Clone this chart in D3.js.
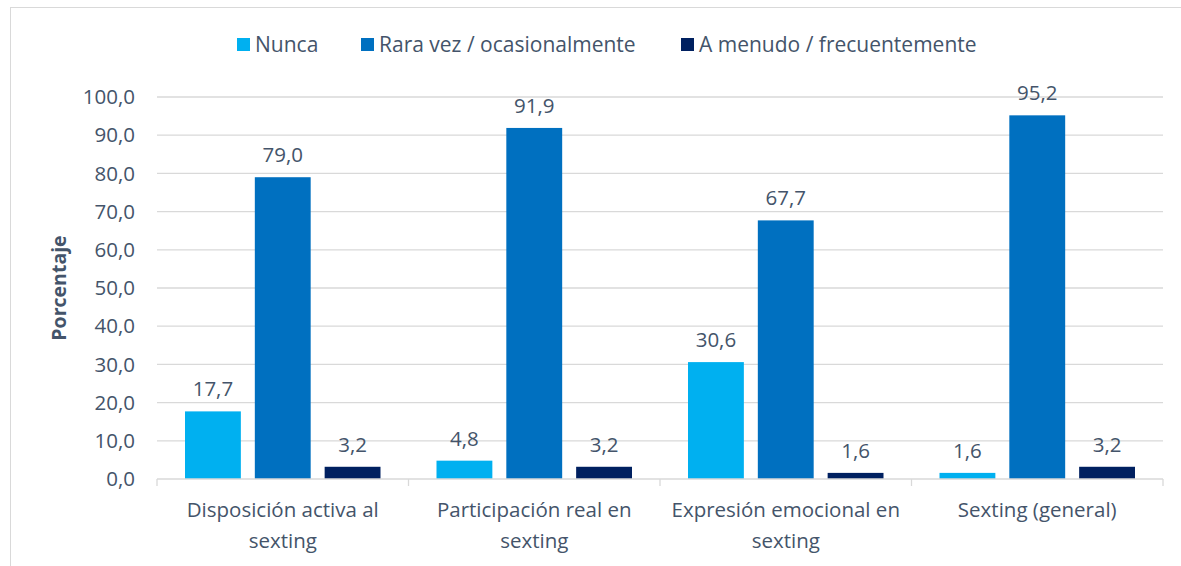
<html>
<script src='https://d3js.org/d3.v7.min.js'></script>
<style>
body {margin:0; background:#fff;}
text {font-family: "Open Sans", "Noto Sans", sans-serif; fill:#44546A;}
</style>
<body>
<svg width=1181 height=566></svg>
<script>
var categories = [["Disposición activa al","sexting"],["Participación real en","sexting"],["Expresión emocional en","sexting"],["Sexting (general)"]]
var seriesNames = ["Nunca","Rara vez / ocasionalmente","A menudo / frecuentemente"]
var nunca = [17.7, 4.8, 30.6, 1.6]
var raraVez = [79.0, 91.9, 67.7, 95.2]
var aMenudo = [3.2, 3.2, 1.6, 3.2]
var yTicks = [0,10,20,30,40,50,60,70,80,90,100]
var colors = ["#00B0F0","#0070C0","#002060"]

var svg = d3.select("svg")
svg.append("rect").attr("x",10.5).attr("y",7.5).attr("width",1190).attr("height",600)
  .attr("fill","none").attr("stroke","#D9D9D9")

var series = [nunca, raraVez, aMenudo]
var x = d3.scaleBand().domain(d3.range(categories.length)).range([157,1163])
var xi = d3.scaleBand().domain(d3.range(3)).range([28, x.bandwidth()-28]).paddingInner(0.2)
var y = d3.scaleLinear().domain([0,100]).range([479,97])

// gridlines
svg.append("g").selectAll("line").data(yTicks.slice(1)).enter().append("line")
  .attr("x1",157).attr("x2",1163).attr("y1",d=>y(d)).attr("y2",d=>y(d))
  .attr("stroke","#D9D9D9").attr("stroke-width",1.3)

// y labels
svg.append("g").selectAll("text").data(yTicks).enter().append("text")
  .attr("x",135).attr("y",d=>y(d)).attr("dy","0.35em").attr("text-anchor","end")
  .style("font-size","20.5px").text(d=>d.toFixed(1).replace(".",","))

svg.append("text").attr("transform","translate(66,288) rotate(-90)")
  .attr("text-anchor","middle").style("font-size","19.5px").style("font-weight","bold")
  .text("Porcentaje")

// bars
series.forEach(function(s, si) {
  var g = svg.append("g")
  g.selectAll("rect").data(s).enter().append("rect")
    .attr("x",(d,i)=>x(i)+xi(si)).attr("width",xi.bandwidth())
    .attr("y",d=>y(d)).attr("height",d=>y(0)-y(d)).attr("fill",colors[si])
  g.selectAll("text").data(s).enter().append("text")
    .attr("x",(d,i)=>x(i)+xi(si)+xi.bandwidth()/2).attr("y",d=>y(d)-15)
    .attr("text-anchor","middle").style("font-size","20.5px")
    .text(d=>d.toFixed(1).replace(".",","))
})

// x axis
svg.append("line").attr("x1",157).attr("x2",1163).attr("y1",479).attr("y2",479)
  .attr("stroke","#D9D9D9").attr("stroke-width",1.3)
svg.append("g").selectAll("line").data(d3.range(categories.length+1)).enter().append("line")
  .attr("x1",d=>157+d*x.step()).attr("x2",d=>157+d*x.step()).attr("y1",479).attr("y2",486)
  .attr("stroke","#D9D9D9").attr("stroke-width",1.3)
categories.forEach(function(c, i) {
  var t = svg.append("text").attr("text-anchor","middle").style("font-size","20.5px")
  c.forEach(function(line, li) {
    t.append("tspan").attr("x",x(i)+x.bandwidth()/2).attr("y",517+li*31).text(line)
  })
})

// legend
var legendX = [237, 361, 681]
seriesNames.forEach(function(n, i) {
  svg.append("rect").attr("x",legendX[i]).attr("y",38).attr("width",13).attr("height",13).attr("fill",colors[i])
  svg.append("text").attr("x",legendX[i]+18).attr("y",45).attr("dy","0.35em").style("font-size","21px").text(n)
})
</script>
</body>
</html>
